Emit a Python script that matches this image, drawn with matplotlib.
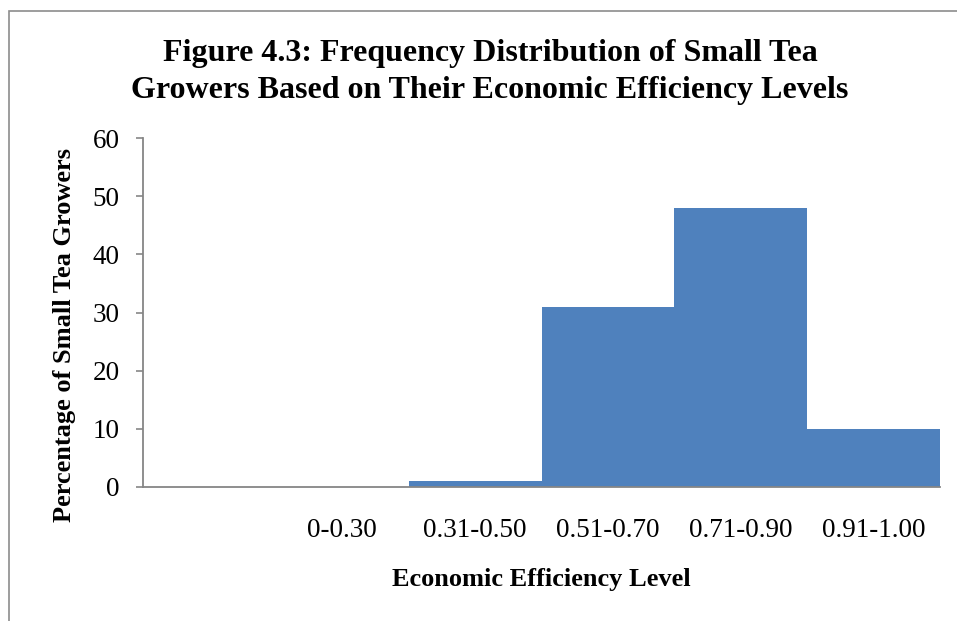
import matplotlib.pyplot as plt
from matplotlib.patches import Rectangle

# categories (first slot is left empty in the original chart)
levels = ['', '0-0.30', '0.31-0.50', '0.51-0.70', '0.71-0.90', '0.91-1.00']
percent = [0, 0, 1, 31, 48, 10]

plt.rcParams['font.family'] = ['Liberation Serif', 'DejaVu Serif']

fig = plt.figure(figsize=(9.57, 6.21), dpi=100)
ax = fig.add_axes([143/957, 1 - 487/621, (940-143)/957, (487-138)/621])

pos = range(len(levels))
ax.bar(pos, percent, width=1.0, color='#4F81BD', linewidth=0)

ax.set_xlim(-0.5, len(levels) - 0.5)
ax.set_ylim(0, 60)
ax.set_yticks(range(0, 61, 10))
ax.set_xticks(list(pos))
ax.set_xticklabels(levels)

ax.tick_params(axis='y', length=5, width=1.2, color='#868686', pad=12, labelsize=19.5)
ax.tick_params(axis='x', length=0, pad=22, labelsize=19.5)

for s in ['top', 'right']:
    ax.spines[s].set_visible(False)
for s in ['left', 'bottom']:
    ax.spines[s].set_color('#868686')
    ax.spines[s].set_linewidth(1.3)

ax.set_xlabel('Economic Efficiency Level', fontsize=19, fontweight='bold', labelpad=18)
ax.set_ylabel('Percentage of Small Tea Growers', fontsize=19, fontweight='bold')
ax.yaxis.set_label_coords(-0.084, 0.435)

fig.text(490/957, 1 - 72/621,
         'Figure 4.3: Frequency Distribution of Small Tea\nGrowers Based on Their Economic Efficiency Levels',
         ha='center', va='center', fontsize=23, fontweight='bold', linespacing=1.33)

# outer chart frame
fig.patches.append(Rectangle((9/957, -0.05), 1.2, 1 - 11/621 + 0.05, transform=fig.transFigure,
                             fill=False, edgecolor='#8c8c8c', linewidth=1.2))

fig.savefig('out.png', dpi=100)
